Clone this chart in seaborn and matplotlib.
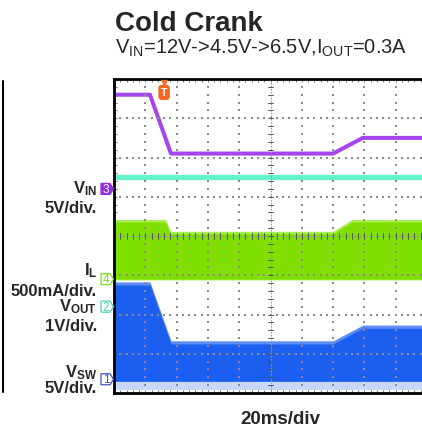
import numpy as np
import pandas as pd
import matplotlib
matplotlib.use("Agg")
import matplotlib.pyplot as plt
from matplotlib.lines import Line2D
from matplotlib.patches import Polygon
import seaborn as sns

# ---------------- data (read from the scope shot) ----------------
# time axis: 20 ms/div, 10 divisions
vin_t = [0, 23, 36.4, 140, 159, 200]          # ms
vin_v = [12, 12, 4.5, 4.5, 6.5, 6.5]          # V (5 V/div)

vout_t = [0, 200]
vout_v = [3.3, 3.3]                           # V (1 V/div)

il_t = [0, 33, 36, 140, 152, 200]
il_peak = [0.73, 0.73, 0.58, 0.58, 0.73, 0.73]  # A (500 mA/div)
il_valley = [0.0, 0.0, 0.0, 0.0, 0.0, 0.0]

vsw_t = [0, 23, 36.4, 140, 159, 200]
vsw_top = [12, 12, 4.5, 4.5, 6.5, 6.5]        # V (5 V/div)
vsw_bot = [-0.25, -0.25, -0.25, -0.25, -0.25, -0.25]

# channel ground marker positions (divisions from screen centre) and scales
ch_ground = {"3": 1.2, "4": -1.1, "2": -1.8, "1": -3.65}
ch_scale = {"3": 5.0, "4": 0.5, "2": 1.0, "1": 5.0}
trigger_ms = 32

labels = [
    ("V$_{\\mathbf{IN}}$", 193), ("5V/div.", 213),
    ("I$_{\\mathbf{L}}$", 275), ("500mA/div.", 296),
    ("V$_{\\mathbf{OUT}}$", 311), ("1V/div.", 331),
    ("V$_{\\mathbf{SW}}$", 377), ("5V/div.", 393),
]

# ---------------- style ----------------
sns.set_style("white")
plt.rcParams["font.family"] = ["Liberation Sans", "DejaVu Sans"]
plt.rcParams["mathtext.fontset"] = "custom"
plt.rcParams["mathtext.rm"] = "Liberation Sans"
plt.rcParams["mathtext.it"] = "Liberation Sans:italic"
plt.rcParams["mathtext.bf"] = "Liberation Sans:bold"

C_VIN = "#A545EC"
C_VOUT = "#62F2CC"
C_IL = "#7FE000"
C_IL_L = "#A8EE55"
C_VSW = "#1C5EF0"
C_VSW_L = "#5F8CF3"
C_VSW_B = "#C9D8FA"
C_TRIG = "#F26A22"

W, H = 422, 431
fig = plt.figure(figsize=(W / 100, H / 100), dpi=100)
fig.patch.set_facecolor("white")
ax_l, ax_t, ax_b = 114, 80, 394
div_x = 31.3
ax = fig.add_axes([ax_l / W, (H - ax_b) / H, 10 * div_x / W, (ax_b - ax_t) / H])
ax.set_xlim(0, 10)
ax.set_ylim(-4, 4)


def tx(t):
    return np.asarray(t, float) / 20.0


def ty(v, ch):
    return ch_ground[ch] + np.asarray(v, float) / ch_scale[ch]


# VSW band
x = tx(vsw_t)
ax.fill_between(x, ty(np.array(vsw_bot) - 1.1, "1"), ty(vsw_bot, "1"),
                color=C_VSW_B, lw=0, zorder=2)
ax.fill_between(x, ty(vsw_bot, "1"), ty(np.array(vsw_top) + 0.4, "1"),
                color=C_VSW_L, lw=0, zorder=2)
ax.fill_between(x, ty(vsw_bot, "1"), ty(vsw_top, "1"), color=C_VSW, lw=0, zorder=2.1)

# IL band
x = tx(il_t)
ax.fill_between(x, ty(np.array(il_valley) - 0.01, "4"), ty(np.array(il_peak) + 0.03, "4"),
                color=C_IL_L, lw=0, zorder=2)
ax.fill_between(x, ty(il_valley, "4"), ty(il_peak, "4"), color=C_IL, lw=0, zorder=2.1)

# VIN and VOUT traces
df_vin = pd.DataFrame({"x": tx(vin_t), "y": ty(vin_v, "3")})
df_vout = pd.DataFrame({"x": tx(vout_t), "y": ty(vout_v, "2")})
sns.lineplot(data=df_vout, x="x", y="y", ax=ax, color=C_VOUT, lw=3.8, zorder=3,
             sort=False, estimator=None)
sns.lineplot(data=df_vin, x="x", y="y", ax=ax, color=C_VIN, lw=2.9, zorder=3,
             sort=False, estimator=None)

# graticule
gc = "#8a8a8a"
minor = np.arange(-4, 4.001, 0.2)
for k in range(1, 10):
    if k == 5:
        continue
    ax.scatter(np.full_like(minor, k), minor, s=1.2, marker="s", color=gc, lw=0, zorder=5)
minor_x = np.arange(0, 10.001, 0.2)
for k in range(-3, 4):
    if k == 0:
        continue
    ax.scatter(minor_x, np.full_like(minor_x, k), s=1.2, marker="s", color=gc, lw=0, zorder=5)
# centre lines with ticks
ax.plot([5, 5], [-4, 4], color="#9a9a9a", lw=0.8, ls=(0, (1.5, 1.2)), zorder=5)
ax.plot([0, 10], [0, 0], color="#9a9a9a", lw=0.8, ls=(0, (1.5, 1.2)), zorder=5)
for yy in minor:
    ax.plot([4.92, 5.08], [yy, yy], color="#555555", lw=0.7, zorder=5)
for xx in minor_x:
    ax.plot([xx, xx], [-0.07, 0.07], color="#555555", lw=0.7, zorder=5)

ax.set_xticks(minor_x)
ax.set_yticks(minor)
ax.tick_params(direction="in", length=2.5, width=0.7, color="#777777",
               top=True, bottom=True, left=True, right=True,
               labelbottom=False, labelleft=False)
ax.set_xlabel("")
ax.set_ylabel("")
for sp in ax.spines.values():
    sp.set_color("black")
    sp.set_linewidth(2.0)
    sp.set_zorder(6)

# trigger marker
xt = trigger_ms / 20.0
ax.scatter([xt], [3.91], marker="v", s=28, color=C_TRIG, lw=0, zorder=7, clip_on=False)
ax.text(xt, 3.66, "T", color="white", fontsize=7.5, fontweight="bold", ha="center",
        va="center", zorder=7,
        bbox=dict(boxstyle="round,pad=0.18,rounding_size=0.25", fc=C_TRIG, ec=C_TRIG))

# channel markers
def ch_marker(ch, color, filled):
    y0 = ch_ground[ch]
    h = 5.5 / 39.25
    xl, xr, xp = (101 - ax_l) / div_x, (110 - ax_l) / div_x, (113.5 - ax_l) / div_x
    poly = Polygon([[xl, y0 - h], [xr, y0 - h], [xp, y0], [xr, y0 + h], [xl, y0 + h]],
                   closed=True, fc=color if filled else "white", ec=color, lw=0.9,
                   clip_on=False, zorder=7)
    ax.add_patch(poly)
    ax.text((xl + xr) / 2 + 0.02, y0, ch, color="white" if filled else color,
            fontsize=8.5, ha="center", va="center", clip_on=False, zorder=8)


ch_marker("3", "#9030E0", True)
ch_marker("4", "#7CD81E", False)
ch_marker("2", "#4CD6AE", False)
ch_marker("1", "#3E55C8", False)

# texts
fig.text(115 / W, 1 - 31 / H, "Cold Crank", fontsize=20, fontweight="bold",
         ha="left", va="baseline")
fig.text(115 / W, 1 - 54 / H,
         "V$_{\\mathregular{IN}}$=12V->4.5V->6.5V,I$_{\\mathregular{OUT}}$=0.3A",
         fontsize=14.5, ha="left", va="baseline")
fig.text(280 / W, 1 - 424 / H, "20ms/div", fontsize=13.5, fontweight="bold",
         ha="center", va="baseline")
for txt, yb in labels:
    fig.text(97 / W, 1 - yb / H, txt, fontsize=12, fontweight="bold",
             ha="right", va="baseline")

# left frame line
fig.add_artist(Line2D([2.5 / W, 2.5 / W], [1 - 82 / H, 1 - 393 / H], color="black", lw=1.5))

fig.savefig("out.png", dpi=100, facecolor="white")
